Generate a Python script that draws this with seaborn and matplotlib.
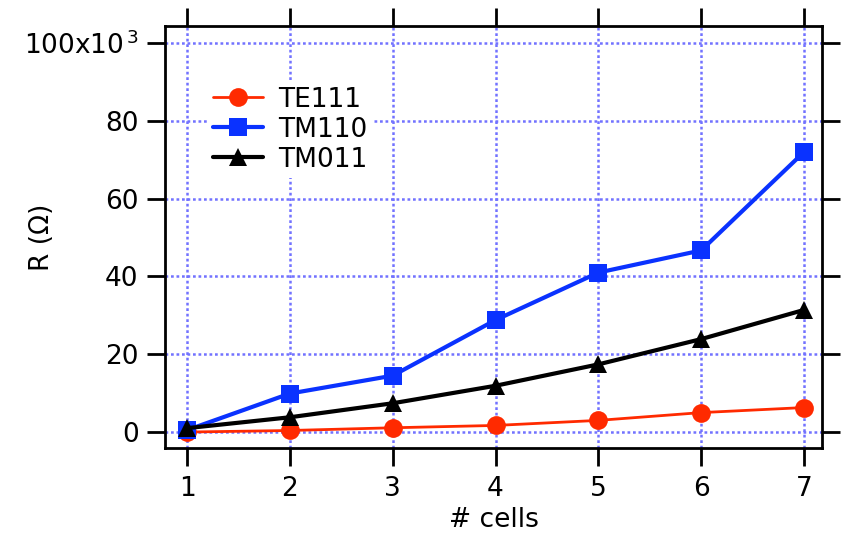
import matplotlib
matplotlib.use("Agg")
import matplotlib.pyplot as plt
import seaborn as sns
import pandas as pd

cells = [1, 2, 3, 4, 5, 6, 7]
te111 = [0.0, 0.4, 1.1, 1.7, 3.0, 5.0, 6.3]
tm110 = [0.5, 9.9, 14.5, 28.8, 41.0, 46.7, 72.0]
tm011 = [1.0, 3.8, 7.4, 11.9, 17.4, 23.9, 31.4]
ytick_vals = [0, 20, 40, 60, 80, 100]
ytick_labels = ["0", "20", "40", "60", "80", "100x10$^{\\,3}$"]

sns.set_theme(style="white")
plt.rcParams['font.family'] = ['DejaVu Sans']
plt.rcParams['mathtext.fontset'] = 'dejavusans'
plt.rcParams['text.color'] = 'black'

FS = 19

fig = plt.figure(figsize=(8.44, 5.39), dpi=100)
ax = fig.add_axes([165/844, 1-448/539, (822-165)/844, (448-26)/539])

series = [
    ("TE111", te111, "#ff2a00", "o", 13.5, 2.0),
    ("TM110", tm110, "#0a32ff", "s", 13.0, 3.0),
    ("TM011", tm011, "#000000", "^", 13.0, 3.0),
]
for name, vals, col, mk, ms, lw in series:
    df = pd.DataFrame({"cells": cells, "R": vals})
    sns.lineplot(data=df, x="cells", y="R", ax=ax, color=col, marker=mk,
                 markersize=ms, linewidth=lw, markeredgewidth=0,
                 label=name, zorder=3)

ax.set_xlim(0.786, 7.175)
ax.set_ylim(-4.1, 104.4)
ax.set_xticks(cells)
ax.set_yticks(ytick_vals)
ax.set_yticklabels(ytick_labels)

ax.grid(True, color="#7272ff", linestyle=(0, (1.1, 1.1)), linewidth=1.8)
ax.set_axisbelow(True)

for sp in ax.spines.values():
    sp.set_visible(True)
    sp.set_color("black")
    sp.set_linewidth(2.0)

ax.tick_params(axis="both", which="major", direction="out", length=13,
               width=2.0, color="black", labelsize=FS, labelcolor="black",
               top=True, right=True, bottom=True, left=True,
               labeltop=False, labelright=False)
ax.tick_params(axis="x", pad=7)
ax.tick_params(axis="y", pad=6)

ax.set_xlabel("# cells", fontsize=FS, color="black")
ax.set_ylabel("R (Ω)", fontsize=FS, color="black")
ax.xaxis.set_label_coords(0.5, -0.14)
ax.yaxis.set_label_coords(-0.168, 0.5)

leg = ax.legend(loc="upper left", bbox_to_anchor=(0.045, 0.9), fontsize=FS,
                frameon=True, framealpha=1, edgecolor="none", facecolor="white",
                handlelength=1.9, handletextpad=0.55, labelspacing=0.15,
                borderpad=0.2, fancybox=False, labelcolor="black")

fig.savefig("out.png", dpi=100)
